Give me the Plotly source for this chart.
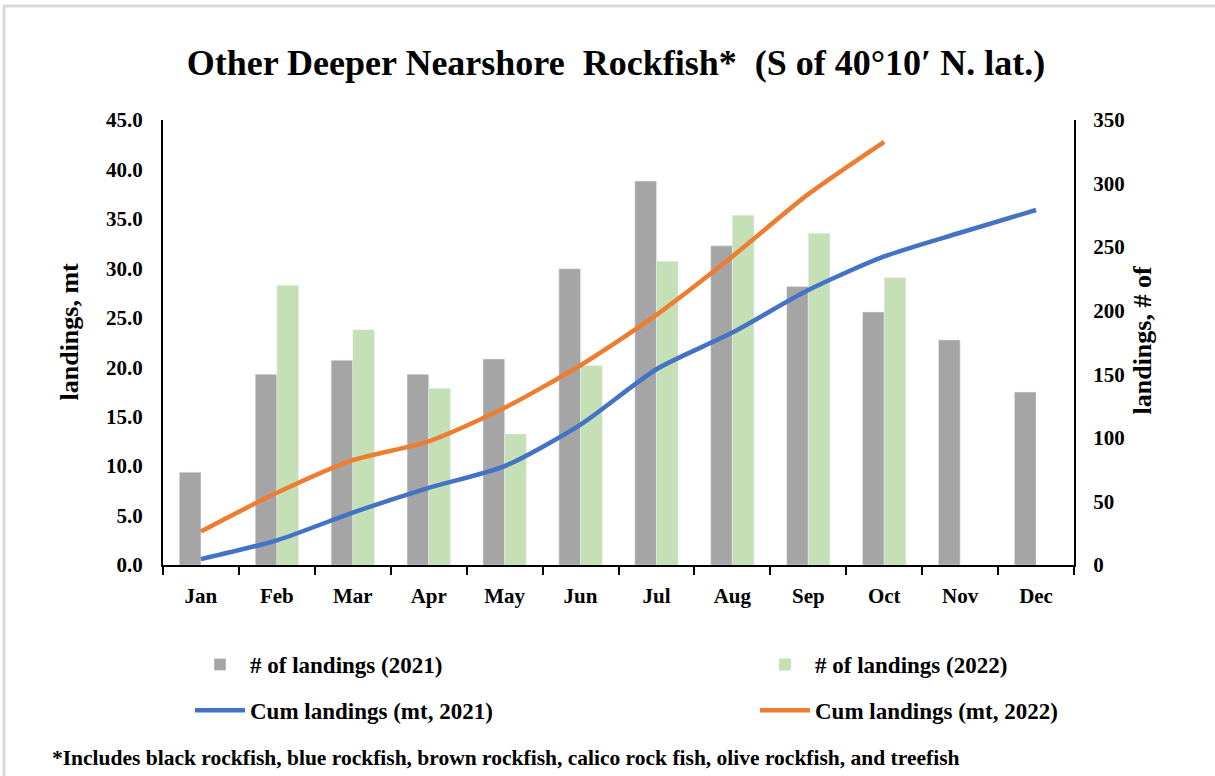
import plotly.graph_objects as go

months = ["Jan", "Feb", "Mar", "Apr", "May", "Jun", "Jul", "Aug", "Sep", "Oct", "Nov", "Dec"]
landings_2021 = [73, 150, 161, 150, 162, 233, 302, 251, 219, 199, 177, 136]
landings_2022 = [None, 220, 185, 139, 103, 157, 239, 275, 261, 226, None, None]
cum_2021 = [0.6, 2.5, 5.3, 7.8, 10.0, 14.2, 19.8, 23.5, 27.8, 31.2, 33.6, 35.9]
cum_2022 = [3.4, 7.3, 10.6, 12.5, 15.9, 20.2, 25.3, 31.2, 37.5, 42.8]

FONT = "Liberation Serif"
W, H = 1215, 776
L, R, T, B = 163, 141, 120, 211
PW, PH = W - L - R, H - T - B


def px(x):
    return (x - L) / PW


def py(y):
    return (H - B - y) / PH


fig = go.Figure()
fig.add_trace(go.Bar(x=months, y=landings_2021, name="# of landings (2021)",
                     marker=dict(color="#A5A5A5"), yaxis="y", legend="legend",
                     legendgroup="a"))
fig.add_trace(go.Bar(x=months, y=landings_2022, name="# of landings (2022)",
                     marker=dict(color="#C5E0B4"), yaxis="y", legend="legend2",
                     legendgroup="c"))
fig.add_trace(go.Scatter(x=months, y=cum_2021, name="Cum landings (mt, 2021)",
                         mode="lines", line=dict(color="#4472C4", width=4.5,
                                                 shape="spline", smoothing=0.7),
                         yaxis="y2", legend="legend", legendgroup="b"))
fig.add_trace(go.Scatter(x=months[:len(cum_2022)], y=cum_2022,
                         name="Cum landings (mt, 2022)",
                         mode="lines", line=dict(color="#ED7D31", width=4.5,
                                                 shape="spline", smoothing=0.7),
                         yaxis="y2", legend="legend2", legendgroup="d"))

tickfont = dict(family=FONT, size=21, color="black", weight="bold")
legfont = dict(family=FONT, size=23, color="black", weight="bold")

fig.update_layout(
    width=W, height=H,
    margin=dict(l=L, r=R, t=T, b=B),
    paper_bgcolor="white", plot_bgcolor="white",
    barmode="group", bargap=0.43, bargroupgap=0,
    title=dict(text="Other Deeper Nearshore  Rockfish*  (S of 40°10′ N. lat.)",
               font=dict(family=FONT, size=36, color="black", weight="bold"),
               x=616 / W, xanchor="center", xref="container",
               y=1 - 62 / H, yanchor="middle", yref="container"),
    xaxis=dict(type="category", categoryarray=months, showline=True,
               linecolor="black", linewidth=2, ticks="outside", ticklen=8,
               tickwidth=2, tickcolor="black", tickson="boundaries",
               tickfont=tickfont, showgrid=False, ticklabelstandoff=11),
    xaxis2=dict(type="linear", range=[-0.5, 11.5], tick0=-0.5, dtick=1,
                overlaying="x", anchor="y", ticks="inside", ticklen=5,
                tickwidth=2, tickcolor="black", showticklabels=False,
                showgrid=False, showline=False, zeroline=False),
    yaxis=dict(side="right", range=[0, 350], dtick=50, showline=True,
               linecolor="black", linewidth=2, ticks="", showgrid=False,
               zeroline=False, tickfont=tickfont, ticklabelstandoff=13),
    yaxis2=dict(side="left", overlaying="y", range=[0, 45], dtick=5,
                tickformat=".1f", showline=True, linecolor="black",
                linewidth=2, ticks="", showgrid=False, zeroline=False,
                tickfont=tickfont, ticklabelstandoff=14),
    legend=dict(x=px(190), y=py(643), xanchor="left", yanchor="top",
                orientation="v", font=legfont, itemwidth=50,
                tracegroupgap=13, bgcolor="rgba(0,0,0,0)"),
    legend2=dict(x=px(755), y=py(643), xanchor="left", yanchor="top",
                 orientation="v", font=legfont, itemwidth=50,
                 tracegroupgap=13, bgcolor="rgba(0,0,0,0)"),
    annotations=[
        dict(text="landings, mt", textangle=-90, x=px(52), y=py(332),
             xref="paper", yref="paper", showarrow=False,
             font=dict(family=FONT, size=26, color="black", weight="bold")),
        dict(text="landings, # of", textangle=-90, x=px(1158), y=py(341),
             xref="paper", yref="paper", showarrow=False,
             font=dict(family=FONT, size=26, color="black", weight="bold")),
        dict(text="*Includes black rockfish, blue rockfish, brown rockfish, calico rock fish, olive rockfish, and treefish",
             x=px(50), y=py(758), xref="paper", yref="paper", xanchor="left",
             yanchor="middle", showarrow=False,
             font=dict(family=FONT, size=21.5, color="black", weight="bold")),
    ],
    shapes=[
        dict(type="line", xref="paper", yref="paper", x0=px(3), x1=px(W),
             y0=py(6), y1=py(6), line=dict(color="#D9D9D9", width=3)),
        dict(type="line", xref="paper", yref="paper", x0=px(4), x1=px(4),
             y0=py(6), y1=py(H), line=dict(color="#D9D9D9", width=3)),
    ],
)

fig.write_html("out.html", config={"displayModeBar": False},
               post_script="document.body.style.margin='0';document.body.style.overflow='hidden';")
